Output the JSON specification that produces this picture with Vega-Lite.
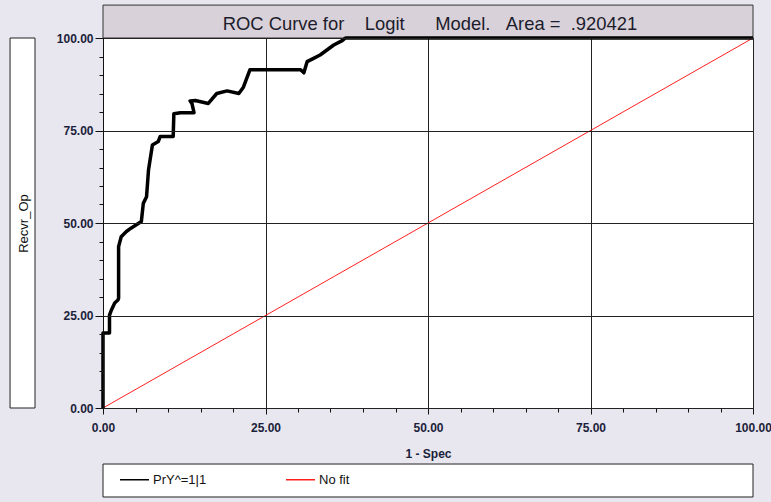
{
  "$schema": "https://vega.github.io/schema/vega-lite/v6.json",
  "width": 650,
  "height": 370,
  "autosize": {"type": "none"},
  "padding": {"left": 103, "top": 38, "right": 18, "bottom": 94},
  "background": "#e8e6ee",
  "config": {
    "view": {"fill": "white", "stroke": "#333333", "strokeWidth": 1},
    "font": "Liberation Sans",
    "axis": {"domainColor": "#111111", "tickColor": "#111111", "gridColor": "#222222", "gridWidth": 1, "labelFont": "Liberation Sans", "titleFont": "Liberation Sans"}
  },
  "datasets": {
    "roc": [
      {"series": "No fit", "x": 0, "y": 0},
      {"series": "No fit", "x": 100, "y": 100},
      {"series": "PrY^=1|1", "x": 0, "y": 0},
      {"series": "PrY^=1|1", "x": 0, "y": 20.3},
      {"series": "PrY^=1|1", "x": 1.0, "y": 20.3},
      {"series": "PrY^=1|1", "x": 1.0, "y": 25.1},
      {"series": "PrY^=1|1", "x": 1.3, "y": 26.5},
      {"series": "PrY^=1|1", "x": 1.8, "y": 28.4},
      {"series": "PrY^=1|1", "x": 2.3, "y": 29.2},
      {"series": "PrY^=1|1", "x": 2.4, "y": 29.7},
      {"series": "PrY^=1|1", "x": 2.4, "y": 43.6},
      {"series": "PrY^=1|1", "x": 2.8, "y": 46.3},
      {"series": "PrY^=1|1", "x": 3.6, "y": 47.7},
      {"series": "PrY^=1|1", "x": 4.3, "y": 48.6},
      {"series": "PrY^=1|1", "x": 5.9, "y": 50.4},
      {"series": "PrY^=1|1", "x": 6.2, "y": 55.3},
      {"series": "PrY^=1|1", "x": 6.7, "y": 57.1},
      {"series": "PrY^=1|1", "x": 7.0, "y": 64.3},
      {"series": "PrY^=1|1", "x": 7.6, "y": 71.1},
      {"series": "PrY^=1|1", "x": 8.5, "y": 72.0},
      {"series": "PrY^=1|1", "x": 8.8, "y": 73.4},
      {"series": "PrY^=1|1", "x": 10.8, "y": 73.4},
      {"series": "PrY^=1|1", "x": 10.9, "y": 79.5},
      {"series": "PrY^=1|1", "x": 11.9, "y": 79.8},
      {"series": "PrY^=1|1", "x": 14.0, "y": 79.8},
      {"series": "PrY^=1|1", "x": 13.7, "y": 82.2},
      {"series": "PrY^=1|1", "x": 13.4, "y": 83.0},
      {"series": "PrY^=1|1", "x": 14.2, "y": 83.1},
      {"series": "PrY^=1|1", "x": 16.2, "y": 82.3},
      {"series": "PrY^=1|1", "x": 17.5, "y": 85.0},
      {"series": "PrY^=1|1", "x": 19.1, "y": 85.7},
      {"series": "PrY^=1|1", "x": 20.9, "y": 85.0},
      {"series": "PrY^=1|1", "x": 21.6, "y": 86.7},
      {"series": "PrY^=1|1", "x": 22.6, "y": 91.4},
      {"series": "PrY^=1|1", "x": 30.4, "y": 91.4},
      {"series": "PrY^=1|1", "x": 30.9, "y": 90.6},
      {"series": "PrY^=1|1", "x": 31.4, "y": 93.6},
      {"series": "PrY^=1|1", "x": 32.4, "y": 94.5},
      {"series": "PrY^=1|1", "x": 33.4, "y": 95.4},
      {"series": "PrY^=1|1", "x": 35.5, "y": 98.1},
      {"series": "PrY^=1|1", "x": 36.8, "y": 99.3},
      {"series": "PrY^=1|1", "x": 37.3, "y": 100},
      {"series": "PrY^=1|1", "x": 100, "y": 100}
    ],
    "one": [{"label": "title"}]
  },
  "layer": [
    {
      "data": {"name": "one"},
      "mark": {"type": "rect", "fill": "#d9d1d9", "stroke": "#333333", "strokeWidth": 1},
      "encoding": {
        "x": {"datum": 0, "type": "quantitative", "scale": {"domain": [0, 100], "nice": false}},
        "x2": {"datum": 100},
        "y": {"datum": 100, "type": "quantitative", "scale": {"domain": [0, 100], "nice": false}},
        "y2": {"datum": 108.9}
      }
    },
    {
      "data": {"name": "one"},
      "mark": {"type": "text", "fontSize": 18.4, "font": "Liberation Sans", "fill": "#1c1c2c", "baseline": "middle", "align": "center"},
      "encoding": {
        "x": {"datum": 50.3, "type": "quantitative", "scale": {"domain": [0, 100], "nice": false}},
        "y": {"datum": 103.8, "type": "quantitative", "scale": {"domain": [0, 100], "nice": false}},
        "text": {"value": "ROC Curve for\u00a0\u00a0\u00a0\u00a0Logit\u00a0\u00a0\u00a0\u00a0\u00a0\u00a0Model.\u00a0\u00a0\u00a0Area =\u00a0\u00a0.920421"}
      }
    },
    {
      "data": {"name": "one"},
      "mark": {"type": "rect", "fill": "white", "stroke": "#222222", "strokeWidth": 1},
      "encoding": {
        "x": {"datum": -14.3, "type": "quantitative", "scale": {"domain": [0, 100], "nice": false}},
        "x2": {"datum": -10.46},
        "y": {"datum": 0, "type": "quantitative", "scale": {"domain": [0, 100], "nice": false}},
        "y2": {"datum": 100}
      }
    },
    {
      "data": {"name": "one"},
      "mark": {"type": "rect", "fill": "white", "stroke": "#222222", "strokeWidth": 1},
      "encoding": {
        "x": {"datum": 0, "type": "quantitative", "scale": {"domain": [0, 100], "nice": false}},
        "x2": {"datum": 100},
        "y": {"datum": -15.14, "type": "quantitative", "scale": {"domain": [0, 100], "nice": false}},
        "y2": {"datum": -24.05}
      }
    },
    {
      "data": {"name": "roc"},
      "transform": [{"filter": "datum.series === 'No fit'"}],
      "mark": {"type": "line", "strokeWidth": 1},
      "encoding": {
        "x": {"field": "x", "type": "quantitative", "scale": {"domain": [0, 100], "nice": false}},
        "y": {"field": "y", "type": "quantitative", "scale": {"domain": [0, 100], "nice": false}},
        "color": {"field": "series", "type": "nominal"},
        "order": {"value": null}
      }
    },
    {
      "data": {"name": "roc"},
      "transform": [{"filter": "datum.series === 'PrY^=1|1'"}],
      "mark": {"type": "line", "strokeWidth": 3.5, "strokeJoin": "round"},
      "encoding": {
        "x": {
          "field": "x", "type": "quantitative",
          "scale": {"domain": [0, 100], "nice": false},
          "axis": {
            "tickCount": 20,
            "labelExpr": "datum.value % 25 === 0 ? format(datum.value, '.2f') : ''",
            "labelOverlap": false,
            "labelBound": false,
            "labelFlush": false,
            "labelFontSize": 12,
            "labelFontWeight": "bold",
            "labelColor": "#1b1f3b",
            "labelPadding": 8,
            "grid": true,
            "tickSize": {"condition": {"test": "datum.value % 25 === 0", "value": 6}, "value": 4},
            "gridOpacity": {"condition": {"test": "datum.value % 25 === 0", "value": 1}, "value": 0},
            "title": "1 - Spec",
            "titleFontSize": 12,
            "titleFontWeight": "bold",
            "titleColor": "#1b1f3b",
            "titlePadding": 15
          }
        },
        "y": {
          "field": "y", "type": "quantitative",
          "scale": {"domain": [0, 100], "nice": false},
          "axis": {
            "tickCount": 20,
            "labelExpr": "datum.value % 25 === 0 ? format(datum.value, '.2f') : ''",
            "labelOverlap": false,
            "labelBound": false,
            "labelFlush": false,
            "labelFontSize": 12,
            "labelFontWeight": "bold",
            "labelColor": "#1b1f3b",
            "labelPadding": 2,
            "grid": true,
            "zindex": 1,
            "tickSize": {"condition": {"test": "datum.value % 25 === 0", "value": 8}, "value": 4},
            "gridOpacity": {"condition": {"test": "datum.value % 25 === 0", "value": 1}, "value": 0},
            "title": "Recvr_Op",
            "titleFontSize": 13,
            "titleFontWeight": "normal",
            "titleColor": "#111111",
            "titleAngle": 270,
            "titleAlign": "center",
            "titleBaseline": "middle",
            "titleX": -80,
            "titleY": 185
          }
        },
        "color": {
          "field": "series", "type": "nominal",
          "scale": {"domain": ["PrY^=1|1", "No fit"], "range": ["#000000", "#ff2020"]},
          "legend": {
            "title": null,
            "orient": "none",
            "direction": "horizontal",
            "legendX": 16,
            "legendY": 426,
            "symbolType": "stroke",
            "symbolSize": 841,
            "symbolStrokeWidth": 1.5,
            "labelFontSize": 13,
            "labelFont": "Liberation Sans",
            "labelColor": "#111111",
            "labelOffset": 3,
            "columnPadding": 76
          }
        },
        "order": {"value": null}
      }
    }
  ]
}
